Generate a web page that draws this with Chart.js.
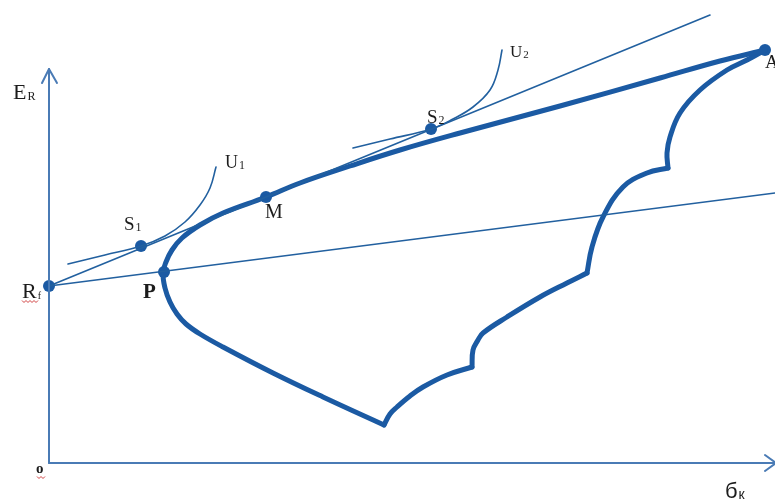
<!DOCTYPE html>
<html>
<head>
<meta charset="utf-8">
<script src="https://cdn.jsdelivr.net/npm/chart.js@4.4.1/dist/chart.umd.min.js"></script>
<style>
html,body{margin:0;padding:0;background:#fff;}
canvas{display:block;}
</style>
</head>
<body>
<canvas id="c" width="775" height="500"></canvas>
<script>
// σ (risk) on x, E(R) (expected return) on y
const frontierUpper = [[716,413],[671,402],[611,385],[511,357],[411,330],[351,313],[301,297],[251,280],[217,266],[174,250],[151,238],[133,225],[123,213],[117,201],[114,190],[116,175],[121,161],[128,149],[137,139],[151,129],[174,116],[224,90],[274,66],[335,38]];
const arc1 = [[335,38],[341,49],[348,56],[361,67],[374,76],[398,88],[423,96]];
const arc2 = [[423,96],[424,113],[429,123],[434,130],[458,146],[491,166],[518,180],[538,190]];
const arc3 = [[538,190],[543,216],[554,246],[574,276],[598,290],[619,295]];
const arc4 = [[619,295],[618,310],[621,326],[631,350],[651,373],[678,393],[698,403],[716,413]];
const cmlLine = [[0,177],[661,448]];
const lowerLine = [[0,177],[726,270]];
const curveU1 = [[19,199],[56,208],[92,217],[116,227],[136,241],[151,258],[161,275],[167,296]];
const curveU2 = [[304,315],[341,324],[382,334],[404,344],[424,356],[441,373],[449,393],[453,413]];
const pointNames = ['Rf','P','S1','M','S2','A'];
const pointValues = [[0,177],[115,191],[92,217],[217,266],[382,334],[716,413]];
const yAxisLine = [[0,0],[0,394]];
const yArrow = [[-7,380],[0,394],[8,380]];
const xAxisLine = [[0,0],[726,0]];
const xArrow = [[716,8],[727,0],[716,-8]];

// text labels: [main, sub, x, y, font, subFont]
const textLabels = [
  ['E','R',-36,364,'22px "Liberation Serif"','12px "Liberation Serif"'],
  ['R','f',-27,165,'22px "Liberation Serif"','10px "Liberation Serif"'],
  ['P','',94,165,'bold 21px "Liberation Serif"',''],
  ['S','1',75,233,'19px "Liberation Serif"','12px "Liberation Serif"'],
  ['M','',216,245,'20px "Liberation Serif"',''],
  ['U','1',176,295,'18px "Liberation Serif"','12px "Liberation Serif"'],
  ['S','2',378,340,'19px "Liberation Serif"','12px "Liberation Serif"'],
  ['U','2',461,406,'17px "Liberation Serif"','11px "Liberation Serif"'],
  ['A','',716,395,'19px "Liberation Serif"',''],
  ['o','',-13,-10,'bold 15px "Liberation Serif"',''],
  ['б','к',676,-35,'22px "Liberation Sans"','14px "Liberation Sans"']
];

const toXY = a => a.map(p => ({x:p[0], y:p[1]}));
const thick = '#1b5aa3', thin = '#22609f', axisC = '#4a7bb5';
function line(d, color, w, t){return {data:toXY(d), showLine:true, pointRadius:0, borderColor:color, borderWidth:w, tension:t, fill:false, clip:false, borderCapStyle:'round', borderJoinStyle:'round'};}

const labelPlugin = {
  id:'labels',
  afterDatasetsDraw(chart){
    const ctx = chart.ctx, xs = chart.scales.x, ys = chart.scales.y;
    ctx.save();
    ctx.fillStyle = '#1c1c1c';
    ctx.textBaseline = 'alphabetic';
    textLabels.forEach(l => {
      const px = xs.getPixelForValue(l[2]), py = ys.getPixelForValue(l[3]);
      ctx.font = l[4];
      ctx.fillText(l[0], px, py);
      if (l[1]) {
        const w = ctx.measureText(l[0]).width;
        ctx.font = l[5];
        ctx.fillText(l[1], px + w + 1, py + 1);
      }
    });
    // spell-check squiggles under Rf and o
    ctx.strokeStyle = '#d04040'; ctx.lineWidth = 1;
    [[-27,162,16],[-12,-14,8]].forEach(s => {
      const x0 = xs.getPixelForValue(s[0]), y0 = ys.getPixelForValue(s[1]);
      ctx.beginPath();
      for (let i = 0; i <= s[2]; i += 2) { ctx.lineTo(x0 + i, y0 + ((i/2)%2 ? 1.5 : -0.5)); }
      ctx.stroke();
    });
    ctx.restore();
  }
};

new Chart(document.getElementById('c'), {
  type:'scatter',
  data:{datasets:[
    line(yAxisLine, axisC, 2, 0),
    line(yArrow, axisC, 2, 0),
    line(xAxisLine, axisC, 2, 0),
    line(xArrow, axisC, 2, 0),
    line(lowerLine, thin, 1.6, 0),
    line(cmlLine, thin, 1.6, 0),
    line(curveU1, thin, 1.6, 0.4),
    line(curveU2, thin, 1.6, 0.4),
    line(frontierUpper, thick, 5, 0.4),
    line(arc1, thick, 5, 0.4),
    line(arc2, thick, 5, 0.4),
    line(arc3, thick, 5, 0.4),
    line(arc4, thick, 5, 0.4),
    {data:toXY(pointValues), showLine:false, pointRadius:6, pointBackgroundColor:thick, pointBorderColor:thick, pointBorderWidth:0, clip:false}
  ]},
  options:{
    responsive:false, animation:false, devicePixelRatio:1,
    layout:{padding:0, autoPadding:false},
    plugins:{legend:{display:false}, tooltip:{enabled:false}},
    scales:{
      x:{type:'linear', display:false, min:-49, max:726},
      y:{type:'linear', display:false, min:-37, max:463}
    }
  },
  plugins:[labelPlugin]
});
</script>
</body>
</html>
